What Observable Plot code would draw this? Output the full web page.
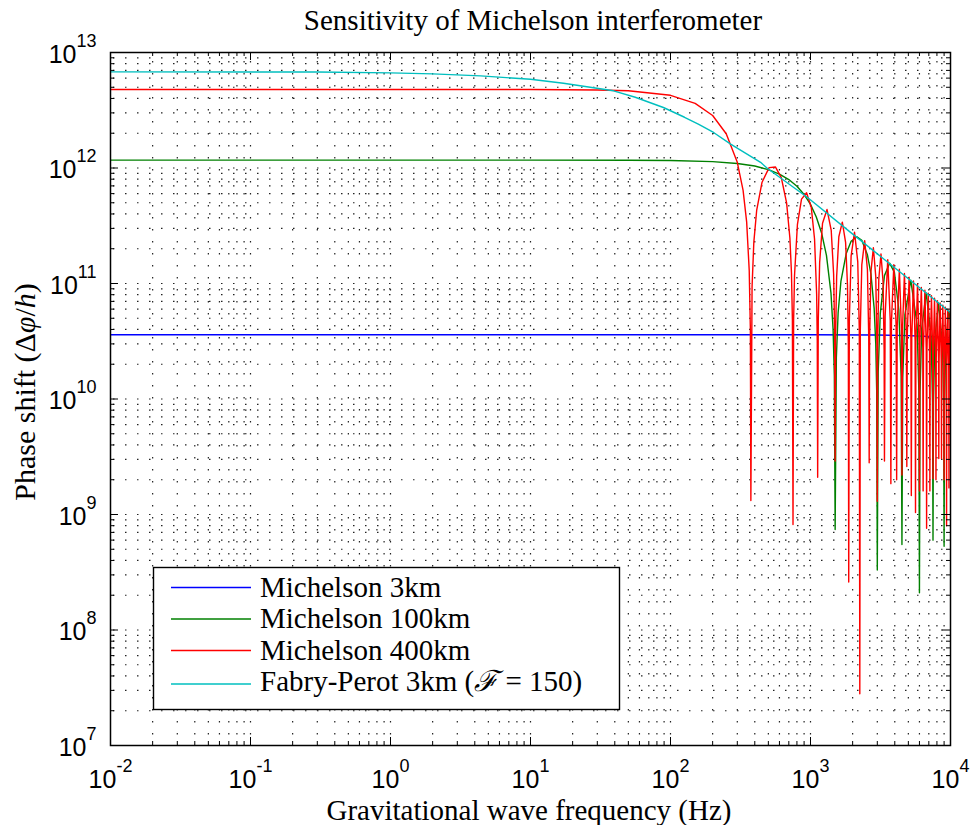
<!DOCTYPE html>
<html><head><meta charset="utf-8">
<script src="https://cdn.jsdelivr.net/npm/d3@7"></script>
<script src="https://cdn.jsdelivr.net/npm/@observablehq/plot@0.6"></script>
<style>
html,body{margin:0;padding:0;background:#fff;}
#chart{width:970px;height:825px;}
</style></head><body><div id="chart"></div>
<script>
// ---------- data (frequency Hz, phase shift per unit strain) ----------
const seriesNames = ["Michelson 3km", "Michelson 100km", "Michelson 400km", "Fabry-Perot 3km"];
const seriesColors = ["#0000ff", "#008000", "#ff0000", "#00bfbf"];

const blueData = [[0.01,3.6e10],[1000,3.6e10],[3000,3.58e10],[5000,3.54e10],[7000,3.48e10],[10000,3.4e10]];

const greenData = [
[0.01,1.17e12],[10,1.17e12],[50,1.168e12],[100,1.16e12],[200,1.136e12],[300,1.095e12],[400,1.04e12],[500,9.67e11],[600,8.86e11],[700,7.94e11],[800,6.94e11],[900,5.9e11],[1000,4.84e11],[1100,3.77e11],[1200,2.74e11],[1300,1.75e11],[1400,8.3e10],[1450,4.0e10],[1480,1.6e10],
[1500,7.4e8],
[1530,2.29e10],[1575,5.55e10],[1650,1.05e11],[1800,1.82e11],[1950,2.32e11],[2145,2.54e11],[2325,2.37e11],[2550,1.77e11],[2700,1.22e11],[2850,6.06e10],[2925,2.99e10],[2970,1.18e10],
[3000,3.3e8],
[3045,1.73e10],[3150,5.48e10],[3375,1.17e11],[3675,1.5e11],[3975,1.25e11],[4275,5.93e10],[4440,1.58e10],
[4500,5.5e8],
[4560,1.53e10],[4725,5.37e10],[5205,1.07e11],[5775,4.39e10],[5940,1.18e10],
[6000,2.1e8],
[6060,1.15e10],[6225,4.07e10],[6700,8.29e10],[7275,3.49e10],[7440,9.4e9],
[7500,6.0e8],
[7560,9.26e9],[7725,3.28e10],[8200,6.78e10],[8775,2.89e10],[8940,7.8e9],
[9000,5.3e8],
[9060,7.7e9],[9225,2.75e10],[9700,5.73e10],[10000,4.84e10]
];

const redData = [
[0.01,4.78e12],[10,4.78e12],[30,4.74e12],[50,4.66e12],[100,4.26e12],[150,3.63e12],[200,2.85e12],[250,1.98e12],[300,1.12e12],[330,6.4e11],[350,3.4e11],[365,1.3e11],[372,3.9e10],
[375,1.32e9],
[382.5,9.4e10],[393.75,2.28e11],[412.5,4.29e11],[450,7.48e11],[506.25,1.008e12],[562.5,1.019e12],[618.75,8.25e11],[675,4.99e11],[712.5,2.48e11],[731.25,1.23e11],[742.5,4.85e10],
[750,8.2e8],
[757.5,4.75e10],[768.75,1.166e11],[806.25,3.23e11],[862.5,5.37e11],[937.5,6.11e11],[1012.5,4.58e11],[1068.75,2.43e11],[1106.25,8.1e10],[1117.5,3.22e10],
[1125,2.1e9],
[1136.25,4.75e10],[1162.5,1.52e11],[1218.75,3.32e11],[1312.5,4.37e11],[1406.25,2.88e11],[1462.5,1.21e11],[1488.75,3.62e10],
[1500,2.9e9],
[1511.25,3.57e10],[1537.5,1.15e11],[1593.75,2.54e11],[1687.5,3.4e11],[1781.25,2.27e11],[1837.5,9.64e10],[1863.75,2.89e10],
[1875,2.6e8],
[1893.75,4.73e10],[1950,1.727e11],[2062.5,2.78e11],[2175,1.549e11],[2231.25,4.02e10],
[2250,2.8e7],
[2268.75,3.95e10],[2325,1.449e11],[2437.5,2.35e11],[2550,1.321e11],[2606.25,3.44e10],
[2625,2.8e9],
[2643.75,3.39e10],[2700,1.247e11],[2812.5,2.04e11],[2925,1.152e11],[2981.25,3.01e10],
[3000,1.3e9],
[3018.75,2.97e10],[3075,1.095e11],[3187.5,1.8e11],[3300,1.021e11],[3356.25,2.67e10],
[3375,2.9e9],
[3412.5,5.19e10],[3562.5,1.608e11],[3712.5,4.77e10],
[3750,1.85e9],
[3787.5,4.67e10],[3937.5,1.455e11],[4087.5,4.33e10],
[4125,2.0e9],
[4162.5,4.25e10],[4312.5,1.329e11],[4462.5,3.97e10],
[4500,2.2e9],
[4537.5,3.9e10],[4687.5,1.222e11],[4837.5,3.66e10],
[4875,2.6e9],
[4912.5,3.6e10],[5062.5,1.132e11],[5212.5,3.4e10],
[5250,1.46e9],
[5287.5,3.35e10],[5437.5,1.054e11],[5587.5,3.17e10],
[5625,1.04e9],
[5662.5,3.13e10],[5812.5,9.86e10],[5962.5,2.97e10],
[6000,1.6e9],
[6037.5,2.93e10],[6187.5,9.26e10],[6337.5,2.79e10],
[6375,1.6e9],
[6412.5,2.76e10],[6562.5,8.73e10],[6712.5,2.64e10],
[6750,7.6e8],
[6787.5,2.61e10],[6937.5,8.26e10],[7087.5,2.5e10],
[7125,1.6e9],
[7162.5,2.47e10],[7312.5,7.84e10],[7462.5,2.37e10],
[7500,2.05e9],
[7537.5,2.35e10],[7687.5,7.45e10],[7837.5,2.26e10],
[7875,2.0e9],
[7912.5,2.24e10],[8062.5,7.11e10],[8212.5,2.16e10],
[8250,3.05e9],
[8287.5,2.14e10],[8437.5,6.79e10],[8587.5,2.06e10],
[8625,3.05e9],
[8662.5,2.04e10],[8812.5,6.5e10],[8962.5,1.98e10],
[9000,2.0e9],
[9037.5,1.96e10],[9187.5,6.24e10],[9337.5,1.9e10],
[9375,8.0e8],
[9412.5,1.88e10],[9562.5,5.99e10],[9712.5,1.82e10],
[9750,1.7e9],
[9787.5,1.81e10],[9937.5,5.77e10],[10000,4.96e10]
];

const cyanData = [
[0.01,6.8e12],[0.3,6.78e12],[1,6.66e12],[2,6.53e12],[4.4,6.28e12],[10,5.87e12],[17.2,5.42e12],[39.2,4.66e12],[56,4.1e12],[89,3.34e12],[126,2.75e12],[158,2.4e12],[203,2.03e12],[269,1.61e12],[440,1.12e12],[493,9.9e11],[953,5.56e11],[1932,2.77e11],[3319,1.64e11],[10000,5.61e10]
];

const xTickValues = [1e-2,1e-1,1e0,1e1,1e2,1e3,1e4];
const yTickValues = [1e7,1e8,1e9,1e10,1e11,1e12,1e13];
const minorMultipliers = [2,3,4,5,6,7,8,9];

// ---------- layout ----------
const W = 970, H = 825, ML = 110, MR = 20, MT = 52, MB = 80;
const FW = W - ML - MR, FH = H - MT - MB;
const xMinor = xTickValues.slice(0, -1).flatMap(d => minorMultipliers.map(m => d * m));
const yMinor = yTickValues.slice(0, -1).flatMap(d => minorMultipliers.map(m => d * m));
const xGrid = xTickValues.slice(1, -1).concat(xMinor);
const yGrid = yTickValues.slice(1, -1).concat(yMinor);
const dataSets = [blueData, greenData, redData, cyanData];
const expo = d => String(Math.round(Math.log10(d)));
const tickFont = "Liberation Sans, Arial, Helvetica, sans-serif";
const serif = "Liberation Serif, Times New Roman, serif";

const grid = {stroke: "#222", strokeWidth: 1.2, strokeDasharray: "1.5,10.5"};

const plot = Plot.plot({
  width: W, height: H,
  marginLeft: ML, marginRight: MR, marginTop: MT, marginBottom: MB,
  style: {background: "#fff", overflow: "visible"},
  x: {type: "log", domain: [1e-2, 1e4], axis: null},
  y: {type: "log", domain: [1e7, 1e13], axis: null},
  marks: [
    Plot.ruleX(xGrid, {x: d => d, ...grid, strokeDashoffset: 3}),
    Plot.ruleY(yGrid, {y: d => d, ...grid, strokeDashoffset: 9}),
    ...dataSets.map((data, i) => Plot.line(data, {x: d => d[0], y: d => d[1], stroke: seriesColors[i], strokeWidth: 1.4, clip: true})),
    Plot.tickX(xTickValues, {x: d => d, insetTop: FH - 8, stroke: "#000"}),
    Plot.tickX(xTickValues, {x: d => d, insetBottom: FH - 8, stroke: "#000"}),
    Plot.tickX(xMinor, {x: d => d, insetTop: FH - 4, stroke: "#000"}),
    Plot.tickX(xMinor, {x: d => d, insetBottom: FH - 4, stroke: "#000"}),
    Plot.tickY(yTickValues, {y: d => d, insetRight: FW - 8, stroke: "#000"}),
    Plot.tickY(yTickValues, {y: d => d, insetLeft: FW - 8, stroke: "#000"}),
    Plot.tickY(yMinor, {y: d => d, insetRight: FW - 4, stroke: "#000"}),
    Plot.tickY(yMinor, {y: d => d, insetLeft: FW - 4, stroke: "#000"}),
    Plot.frame({stroke: "#000", strokeWidth: 1.5}),
    Plot.text(xTickValues, {x: d => d, frameAnchor: "bottom", dy: 42, lineAnchor: "bottom", textAnchor: "middle",
      text: expo, fontSize: 25, fontFamily: tickFont, fill: "#000"}),
    Plot.text(yTickValues, {y: d => d, frameAnchor: "left", dx: -14, dy: 10, lineAnchor: "bottom", textAnchor: "end",
      text: expo, fontSize: 25, fontFamily: tickFont, fill: "#000"})
  ]
});
document.getElementById("chart").appendChild(plot);

const svg = d3.select(plot);
// turn exponent labels into 10^e with a raised exponent
svg.selectAll('g[aria-label="text"] text').each(function () {
  const e = this.textContent;
  this.textContent = "";
  const t = d3.select(this);
  t.append("tspan").text("10");
  t.append("tspan").attr("dy", -16).attr("font-size", 18).text(e);
});

const addText = (x, y, anchor) => svg.append("text").attr("x", x).attr("y", y).attr("text-anchor", anchor)
  .attr("font-family", serif).attr("font-size", 29).attr("fill", "#000");
// title
addText(533, 30, "middle").text("Sensitivity of Michelson interferometer");
// x label
addText(529, 820, "middle").text("Gravitational wave frequency (Hz)");
// y label
const yl = svg.append("text").attr("transform", "translate(35,392) rotate(-90)").attr("text-anchor", "middle")
  .attr("font-family", serif).attr("font-size", 30).attr("fill", "#000");
yl.append("tspan").text("Phase shift (Δ");
yl.append("tspan").attr("font-style", "italic").text("φ");
yl.append("tspan").text("/");
yl.append("tspan").attr("font-style", "italic").text("h");
yl.append("tspan").text(")");

// legend
const lg = svg.append("g");
lg.append("rect").attr("x", 153.5).attr("y", 567.5).attr("width", 466).attr("height", 142)
  .attr("fill", "#fff").attr("stroke", "#000").attr("stroke-width", 1.4);
const lineYs = [587.5, 619, 650.5, 684];
const baseYs = [596.5, 628, 659.5, 691];
seriesNames.forEach((name, i) => {
  lg.append("line").attr("x1", 171).attr("x2", 251).attr("y1", lineYs[i]).attr("y2", lineYs[i])
    .attr("stroke", seriesColors[i]).attr("stroke-width", 1.4);
  const t = lg.append("text").attr("x", 260).attr("y", baseYs[i]).attr("text-anchor", "start")
    .attr("font-family", serif).attr("font-size", 29).attr("fill", "#000");
  if (i === 3) {
    t.append("tspan").text(name + " (");
    t.append("tspan").attr("font-style", "italic").text("ℱ");
    t.append("tspan").text(" = 150)");
  } else {
    t.text(name);
  }
});
</script>
</body></html>
